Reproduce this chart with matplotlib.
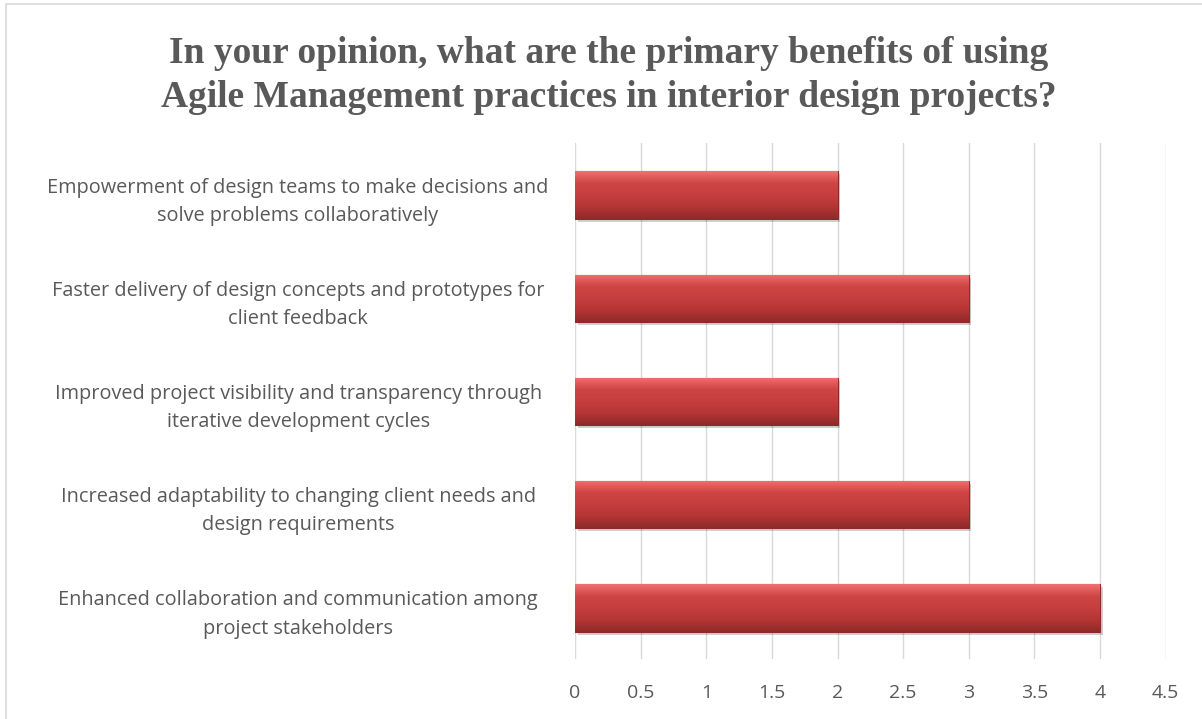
import matplotlib.pyplot as plt
import matplotlib.patches as mpatches
import numpy as np

# Survey responses (top to bottom as shown)
categories = [
    "Empowerment of design teams to make decisions and\nsolve problems collaboratively",
    "Faster delivery of design concepts and prototypes for\nclient feedback",
    "Improved project visibility and transparency through\niterative development cycles",
    "Increased adaptability to changing client needs and\ndesign requirements",
    "Enhanced collaboration and communication among\nproject stakeholders",
]
counts = [2, 3, 2, 3, 4]
xticks = [0, 0.5, 1, 1.5, 2, 2.5, 3, 3.5, 4, 4.5]

title = ("In your opinion, what are the primary benefits of using\n"
         "Agile Management practices in interior design projects?")

grey = "#595959"
fig = plt.figure(figsize=(12.02, 7.19), dpi=100)
ax = fig.add_axes([0.4784, 0.0828, 0.4913, 0.7177])

y = np.arange(len(categories))[::-1]
h = 0.46

# shadow behind bars
for yi, v in zip(y, counts):
    ax.add_patch(mpatches.Rectangle((0.02, yi - h / 2 - 0.03), v, h, color="#000000",
                                    alpha=0.18, lw=0, zorder=2))

bars = ax.barh(y, counts, height=h, color="#c0393b", edgecolor="#8e2a2a", lw=0.8, zorder=3)

# vertical gradient for a bevelled look
grad = np.linspace(0, 1, 64).reshape(-1, 1)
cmap = plt.matplotlib.colors.LinearSegmentedColormap.from_list(
    "bev", ["#8f2a2a", "#b53535", "#c63e3e", "#cf4545", "#f07070"])
for b in bars:
    x0, y0 = b.get_x(), b.get_y()
    im = ax.imshow(grad, cmap=cmap, aspect="auto", origin="lower",
                   extent=[x0, x0 + b.get_width(), y0, y0 + b.get_height()], zorder=3.5)
    im.set_clip_path(b)

ax.set_xlim(0, 4.5)
ax.set_ylim(-0.5, len(categories) - 0.5)
ax.set_xticks(xticks)
ax.set_xticklabels([f"{t:g}" for t in xticks])
ax.set_yticks(y)
ax.set_yticklabels(categories, fontfamily="Open Sans", fontsize=14.3, color=grey,
                   ha="center", multialignment="center", linespacing=1.55)
ax.tick_params(axis="y", length=0, pad=0)
for lab in ax.get_yticklabels():
    lab.set_x(-0.469)
ax.tick_params(axis="x", length=0, pad=18, labelsize=14, labelcolor=grey)
for lab in ax.get_xticklabels():
    lab.set_fontfamily("Open Sans")

ax.grid(axis="x", color="#d9d9d9", lw=1, zorder=0)
ax.set_axisbelow(True)
for s in ax.spines.values():
    s.set_visible(False)

fig.text(0.5067, 0.895, title, ha="center", va="center", fontfamily="Liberation Serif",
         fontweight="bold", fontsize=27, color=grey, linespacing=1.32)

# chart border
fig.patches.append(mpatches.Rectangle((0.005, -0.01), 1.2, 1.004, transform=fig.transFigure,
                                      fill=False, edgecolor="#d9d9d9", lw=1.2))

fig.savefig("out.png", dpi=100)
